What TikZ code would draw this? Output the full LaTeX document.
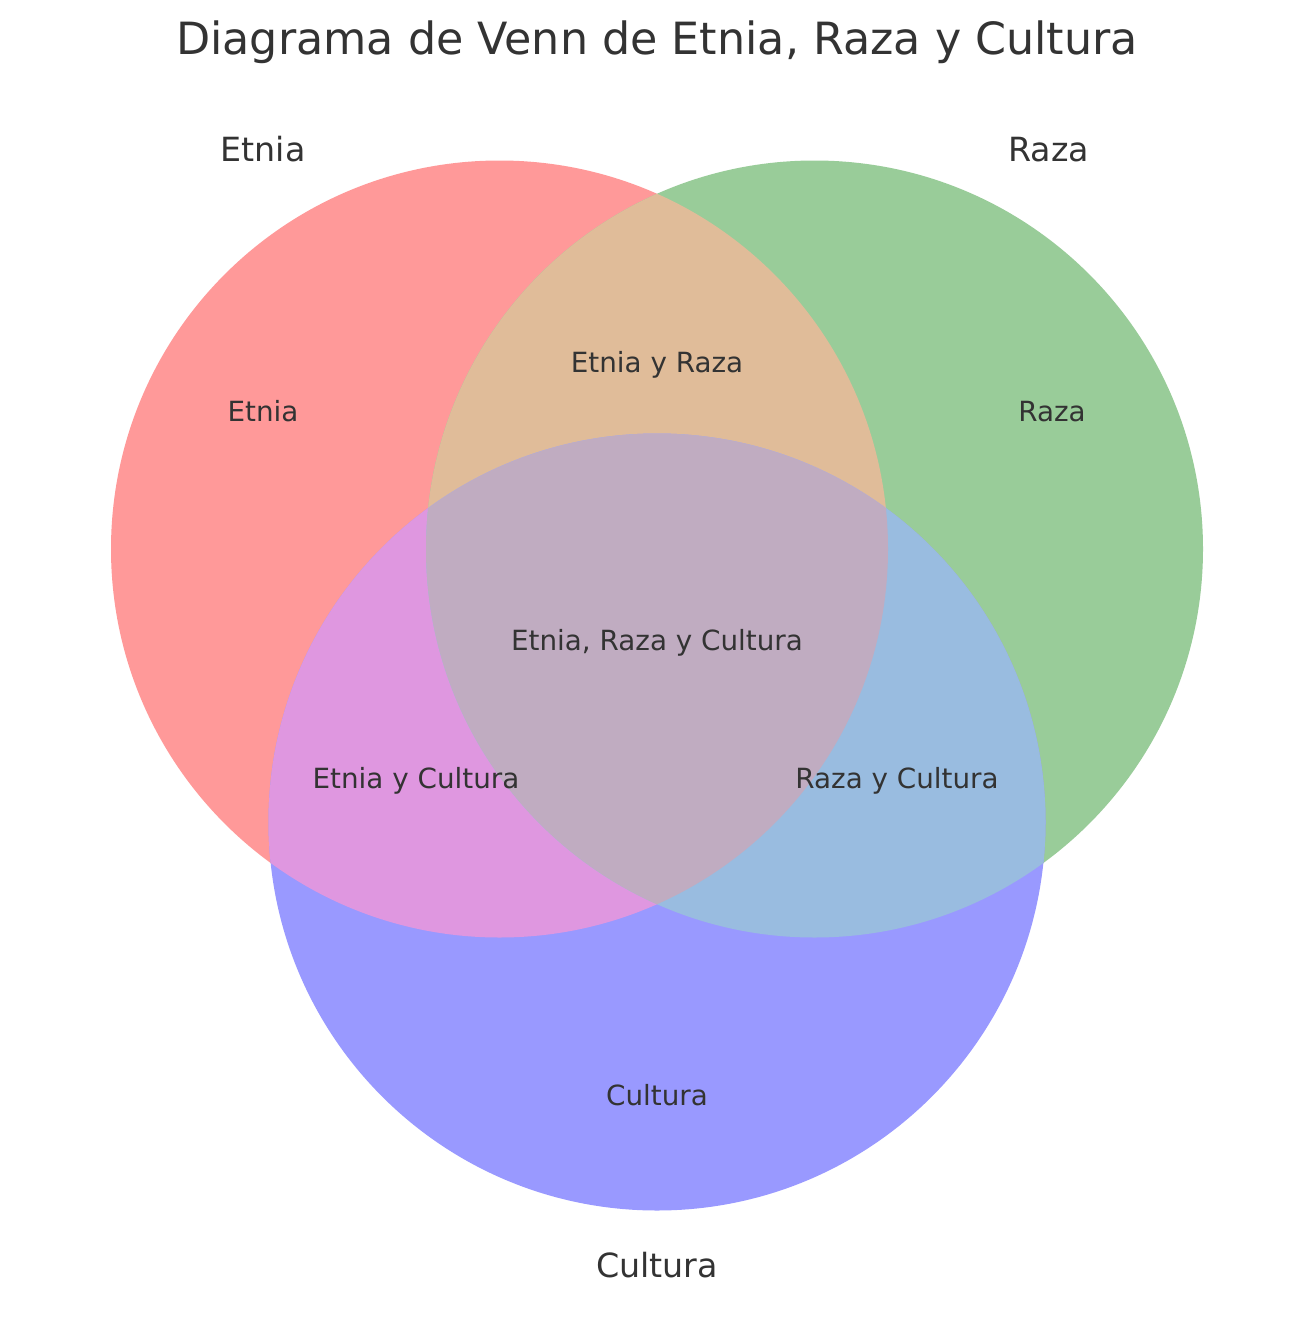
\documentclass[tikz,border=0pt]{standalone}
\usepackage{fontspec}
\setmainfont{DejaVu Sans}
\definecolor{cA}{RGB}{255,153,153}
\definecolor{cB}{RGB}{153,204,153}
\definecolor{cC}{RGB}{153,153,255}
\definecolor{cAB}{RGB}{224,188,153}
\definecolor{cAC}{RGB}{223,151,224}
\definecolor{cBC}{RGB}{153,188,224}
\definecolor{cABC}{RGB}{192,172,193}
\definecolor{txt}{RGB}{51,51,51}
\newcommand{\vr}{388.5pt}
\begin{document}
\begin{tikzpicture}[x=1pt,y=-1pt,
  titlelbl/.style={font=\fontsize{44.4}{52}\selectfont, text=txt, anchor=base, inner sep=0pt},
  setlbl/.style={font=\fontsize{33.3}{40}\selectfont, text=txt, anchor=base, inner sep=0pt},
  reglbl/.style={font=\fontsize{27.8}{34}\selectfont, text=txt, anchor=base, inner sep=0pt}]
\useasboundingbox (0,0) rectangle (1314,1322);
\fill[white] (0,0) rectangle (1314,1322);
\coordinate (A) at (499.5,549);
\coordinate (B) at (814.5,549);
\coordinate (C) at (657,822);
% single sets
\fill[cA] (A) circle[radius=\vr];
\fill[cB] (B) circle[radius=\vr];
\fill[cC] (C) circle[radius=\vr];
% pairwise
\begin{scope}
  \clip (A) circle[radius=\vr];
  \fill[cAB] (B) circle[radius=\vr];
  \fill[cAC] (C) circle[radius=\vr];
\end{scope}
\begin{scope}
  \clip (B) circle[radius=\vr];
  \fill[cBC] (C) circle[radius=\vr];
\end{scope}
% triple
\begin{scope}
  \clip (A) circle[radius=\vr];
  \clip (B) circle[radius=\vr];
  \fill[cABC] (C) circle[radius=\vr];
\end{scope}
% labels
\node[titlelbl] (title) at (657,55) {Diagrama de Venn de Etnia, Raza y Cultura};
\node[setlbl] (setA) at (263,161) {Etnia};
\node[setlbl] (setB) at (1048.5,161) {Raza};
\node[setlbl] (setC) at (657,1277) {Cultura};
\node[reglbl] (rA) at (263,421.5) {Etnia};
\node[reglbl] (rB) at (1052,421.5) {Raza};
\node[reglbl] (rC) at (657,1105) {Cultura};
\node[reglbl] (rAB) at (657,372) {Etnia y Raza};
\node[reglbl] (rAC) at (416,788) {Etnia y Cultura};
\node[reglbl] (rBC) at (897,788) {Raza y Cultura};
\node[reglbl] (rABC) at (657,650) {Etnia, Raza y Cultura};
\end{tikzpicture}
\end{document}
